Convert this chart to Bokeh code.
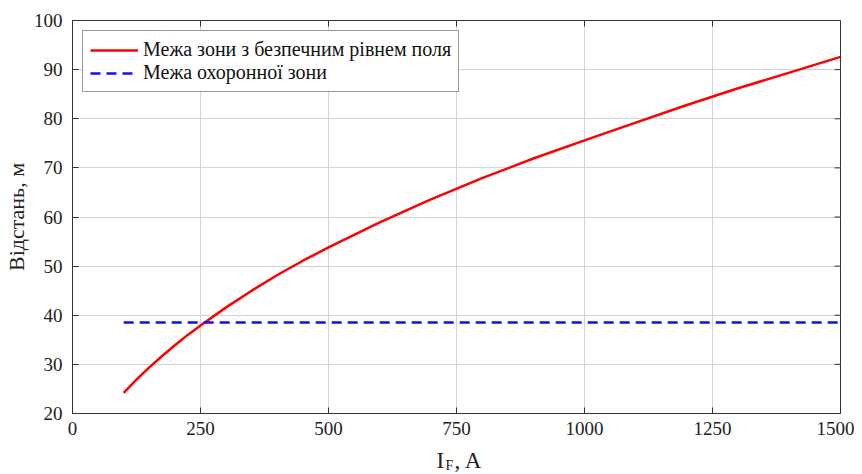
from bokeh.plotting import figure
from bokeh.layouts import column
from bokeh.models import Range1d, Legend, LegendItem, Label, FixedTicker
from bokeh.embed import file_html
from bokeh.resources import INLINE

# Data
current = [100, 125, 150, 175, 200, 225, 250, 300, 350, 400, 450, 500, 600, 700, 800, 900,
           1000, 1100, 1200, 1300, 1400, 1500]
safe_dist = [24.2, 26.9, 29.4, 31.7, 33.9, 36.0, 37.9, 41.6, 45.0, 48.2, 51.1, 53.8, 58.9, 63.6,
             67.9, 71.9, 75.6, 79.2, 82.8, 86.2, 89.4, 92.6]
guard_x = [100, 1500]
guard_y = [38.5, 38.5]
x_ticks = [0, 250, 500, 750, 1000, 1250, 1500]
y_ticks = [20, 30, 40, 50, 60, 70, 80, 90, 100]

X0, X1, Y0, Y1 = 0, 1500, 20, 100
FONT = "Liberation Serif"
AX = "#333333"
TXT = "#222222"

p = figure(width=854, height=443, output_backend="svg", toolbar_location=None,
           x_range=Range1d(X0, X1), y_range=Range1d(Y0, Y1),
           min_border_left=70, min_border_right=14, min_border_top=20, min_border_bottom=30)
p.outline_line_color = AX
p.outline_line_width = 1
p.background_fill_color = "white"
p.border_fill_color = "white"

for ax in (p.xaxis[0], p.yaxis[0]):
    ax.major_label_text_font = FONT
    ax.major_label_text_font_size = "19px"
    ax.major_label_text_color = TXT
    ax.axis_line_color = AX
    ax.major_tick_line_color = AX
    ax.major_tick_in = 6
    ax.major_tick_out = 0
    ax.minor_tick_line_color = None
    ax.major_label_standoff = 8
    ax.axis_label_text_font = FONT
    ax.axis_label_text_font_style = "normal"
    ax.axis_label_text_font_size = "22px"
    ax.axis_label_text_color = TXT

p.xaxis[0].ticker = FixedTicker(ticks=x_ticks)
p.yaxis[0].ticker = FixedTicker(ticks=y_ticks)
p.yaxis[0].major_label_standoff = 10
p.yaxis[0].axis_label = "Відстань, м"
p.yaxis[0].axis_label_standoff = 2

# inward ticks on top and right edges (MATLAB box style)
tx = (X1 - X0) * 6 / 770.0
ty = (Y1 - Y0) * 6 / 393.0
p.segment(x0=x_ticks, x1=x_ticks, y0=[Y1] * len(x_ticks), y1=[Y1 - ty] * len(x_ticks),
          line_color=AX, line_width=1)
p.segment(x0=[X1] * len(y_ticks), x1=[X1 - tx] * len(y_ticks), y0=y_ticks, y1=y_ticks,
          line_color=AX, line_width=1)

p.xgrid.ticker = FixedTicker(ticks=x_ticks)
p.ygrid.ticker = FixedTicker(ticks=y_ticks)
p.grid.grid_line_color = "#d4d4d4"
p.grid.grid_line_width = 1

r1 = p.line(current, safe_dist, line_color="#ff0000", line_width=2.5)
r2 = p.line(guard_x, guard_y, line_color="#1010ee", line_width=2.5, line_dash="10 6")

legend = Legend(items=[LegendItem(label="Межа зони з безпечним рівнем поля", renderers=[r1]),
                       LegendItem(label="Межа охоронної зони", renderers=[r2])],
                location="top_left")
legend.label_text_font = FONT
legend.label_text_font_size = "20px"
legend.label_text_color = "#111111"
legend.border_line_color = AX
legend.border_line_width = 1
legend.glyph_width = 48
legend.glyph_height = 22
legend.label_height = 22
legend.label_standoff = 5
legend.spacing = 0
legend.padding = 7
legend.margin = 10
legend.background_fill_alpha = 1
p.add_layout(legend)

# strip below the plot holding the x axis label with its subscript
q = figure(width=854, height=31, output_backend="svg", toolbar_location=None,
           x_axis_type=None, y_axis_type=None, x_range=Range1d(0, 1), y_range=Range1d(0, 1),
           min_border=0, min_border_left=0, min_border_right=0,
           min_border_top=0, min_border_bottom=0)
q.outline_line_color = None
q.background_fill_color = "white"
q.border_fill_color = "white"
q.add_layout(Label(x=364, y=14, x_units="screen", y_units="screen", text="I",
                   text_font=FONT, text_font_size="23px", text_color=TXT,
                   text_baseline="alphabetic"))
q.add_layout(Label(x=373, y=9, x_units="screen", y_units="screen", text="F",
                   text_font=FONT, text_font_size="14px", text_color=TXT,
                   text_baseline="alphabetic"))
q.add_layout(Label(x=382, y=14, x_units="screen", y_units="screen", text=", A",
                   text_font=FONT, text_font_size="23px", text_color=TXT,
                   text_baseline="alphabetic"))

layout = column(p, q, spacing=0)
open("out.html", "w").write(file_html(layout, INLINE))
